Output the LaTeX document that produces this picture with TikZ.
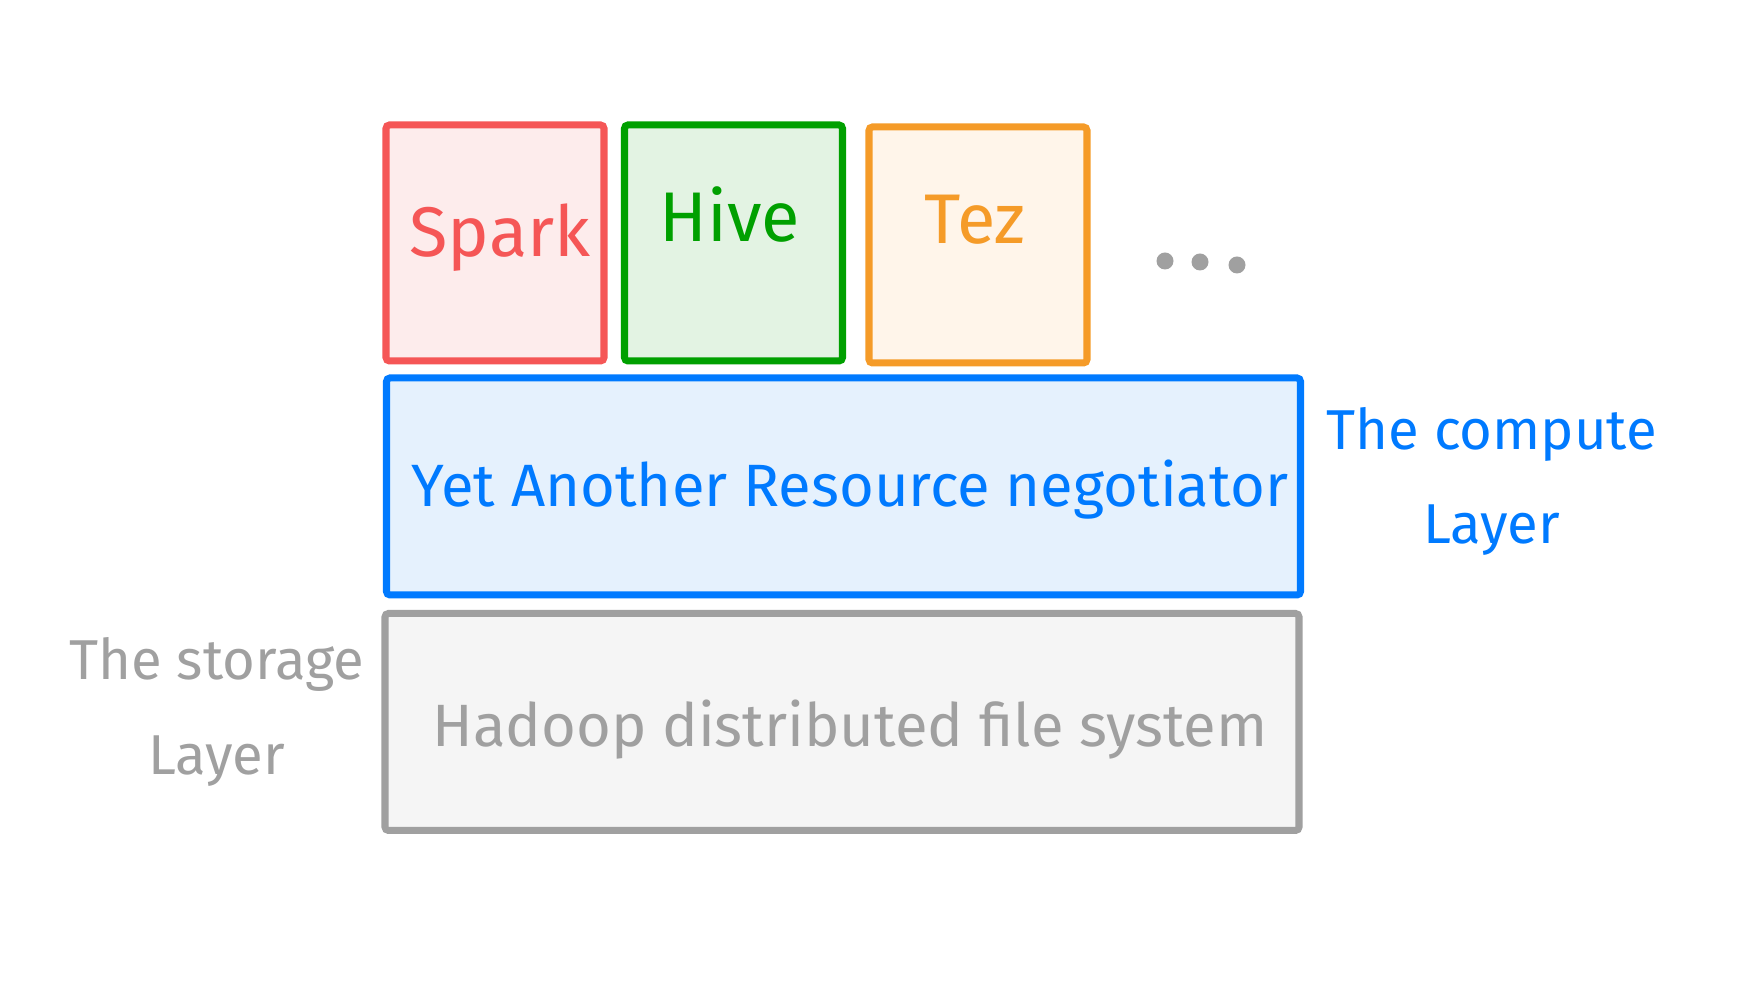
\documentclass[tikz,border=0pt]{standalone}
\usepackage{fontspec}
\setmainfont{Fira Sans}
\usepackage{tikz}
\usetikzlibrary{positioning}

\definecolor{sparkred}{HTML}{F55656}
\definecolor{sparkfill}{HTML}{FDECEC}
\definecolor{hivegreen}{HTML}{00A000}
\definecolor{hivefill}{HTML}{E3F3E3}
\definecolor{tezorange}{HTML}{F59B28}
\definecolor{tezfill}{HTML}{FFF5EA}
\definecolor{yarnblue}{HTML}{007AFF}
\definecolor{yarnfill}{HTML}{E5F1FD}
\definecolor{hdfsgray}{HTML}{A0A0A0}
\definecolor{hdfsfill}{HTML}{F5F5F5}

\begin{document}
\begin{tikzpicture}[
  layerbox/.style={draw=#1, line width=2pt, rounded corners=1pt, inner sep=0pt},
  small/.style={minimum width=2.18cm, minimum height=2.36cm},
  wide/.style={minimum width=9.14cm, minimum height=2.17cm},
  boxtext/.style={text=#1, font=\fontsize{20}{24}\selectfont},
  layertext/.style={text=#1, font=\fontsize{17}{20}\selectfont},
  sidetext/.style={text=#1, font=\fontsize{16}{27}\selectfont, align=center}
]
\useasboundingbox (0,0) rectangle (17.54,10);

% frameworks on top
\node[layerbox=sparkred, fill=sparkfill, small] (spark) at (4.95,7.57) {};
\node[layerbox=hivegreen, fill=hivefill, small] (hive) at (7.335,7.57) {};
\node[layerbox=tezorange, fill=tezfill, small] (tez) at (9.78,7.55) {};

\node[boxtext=sparkred] (sparktxt) at (5.0,7.62) {Spark};
\node[boxtext=hivegreen] (hivetxt) at (7.3,7.85) {Hive};
\node[boxtext=tezorange] (teztxt) at (9.75,7.8) {Tez};

% more frameworks
\fill[hdfsgray] (11.65,7.39) circle (0.085cm);
\fill[hdfsgray] (12.00,7.38) circle (0.085cm);
\fill[hdfsgray] (12.37,7.35) circle (0.085cm);

% the layers
\node[layerbox=yarnblue, fill=yarnfill, wide] (yarn) at (8.435,5.135) {};
\node[layerbox=hdfsgray, fill=hdfsfill, wide] (hdfs) at (8.42,2.78) {};

\node[layertext=yarnblue] (yarntxt) at (8.5,5.1) {Yet Another Resource negotiator};
\node[layertext=hdfsgray] (hdfstxt) at (8.5,2.7) {Hadoop distributed file system};

% side labels
\node[sidetext=yarnblue, right=0.1cm of yarn.east, yshift=0.05cm] (computelbl) {The compute\\Layer};
\node[sidetext=hdfsgray, left=0.05cm of hdfs.west, yshift=0.1cm] (storagelbl) {The storage\\Layer};

\end{tikzpicture}
\end{document}
